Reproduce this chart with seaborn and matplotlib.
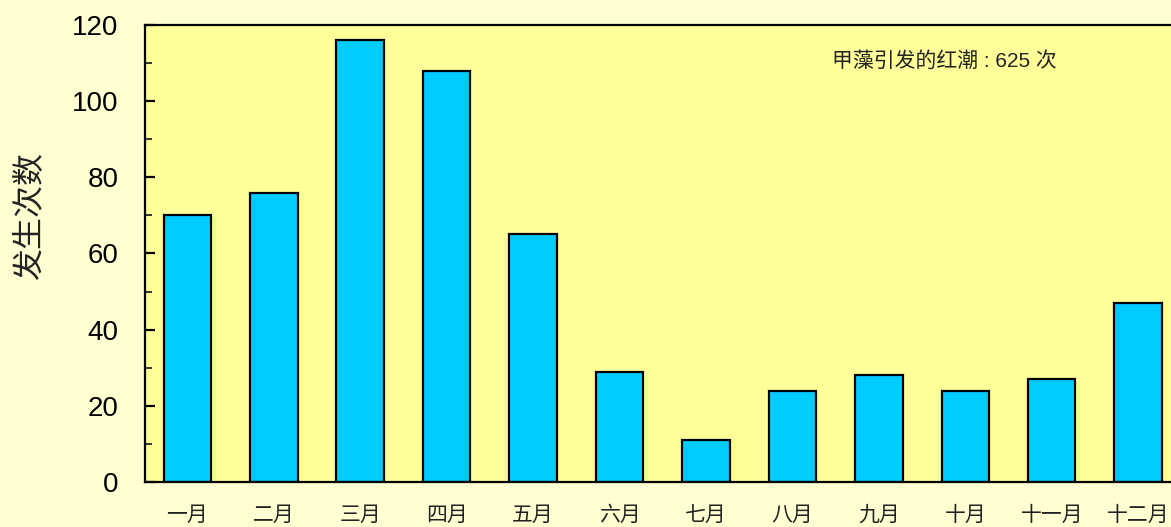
import matplotlib
matplotlib.use("Agg")
import matplotlib.pyplot as plt
import seaborn as sns
import pandas as pd
from matplotlib.ticker import MultipleLocator

# Monthly counts of red tides caused by dinoflagellates
months = ["一月", "二月", "三月", "四月", "五月", "六月",
          "七月", "八月", "九月", "十月", "十一月", "十二月"]
counts = [70, 76, 116, 108, 65, 29, 11, 24, 28, 24, 27, 47]
y_ticks = [0, 20, 40, 60, 80, 100, 120]
note_text = "甲藻引发的红潮 : 625 次"
y_label = "发生次数"

sns.set_theme(style="white")
plt.rcParams["font.family"] = ["Liberation Sans", "Noto Sans CJK SC", "DejaVu Sans"]

df = pd.DataFrame({"month": months, "count": counts})

fig = plt.figure(figsize=(11.71, 5.27), dpi=100, facecolor="#FFFFD2")
ax = fig.add_axes([0.1238, 0.0854, 0.8762, 0.8672])
ax.set_facecolor("#FFFF99")

sns.barplot(data=df, x="month", y="count", color="#00CCFF", saturation=1,
            edgecolor="black", linewidth=1.6, width=0.55, ax=ax)

ax.set_xlim(-0.49, 11.38)
ax.set_ylim(0, 120)
ax.set_yticks(y_ticks)
ax.yaxis.set_minor_locator(MultipleLocator(10))

for side in ("top", "left", "bottom"):
    ax.spines[side].set_visible(True)
    ax.spines[side].set_color("black")
    ax.spines[side].set_linewidth(1.6)
ax.spines["right"].set_visible(False)

ax.tick_params(axis="y", which="major", direction="in", length=7, width=1.6,
               labelsize=20, pad=19, left=True, colors="black")
ax.tick_params(axis="y", which="minor", direction="in", length=5, width=1.3, left=True)
ax.tick_params(axis="x", length=0, labelsize=15, pad=17, labelcolor="#222222")

ax.set_xlabel("")
ax.set_ylabel(y_label, fontsize=23, color="#222222", fontweight="light")
ax.yaxis.set_label_coords(-0.0975, 0.582)

ax.text(8.76, 110.5, note_text, ha="center", va="center", fontsize=15, color="#222222")

fig.savefig("out.png", dpi=100, facecolor=fig.get_facecolor())
